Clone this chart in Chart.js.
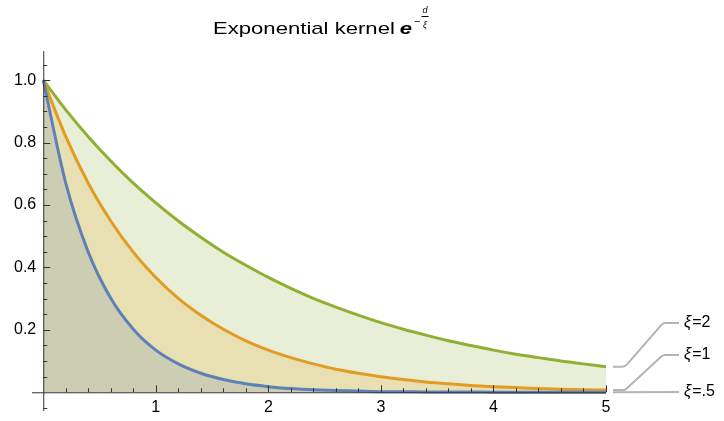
<!DOCTYPE html>
<html>
<head>
<meta charset="utf-8">
<script src="https://cdn.jsdelivr.net/npm/chart.js@4.4.0/dist/chart.umd.min.js"></script>
<style>
  html, body { margin: 0; padding: 0; background: #fff; }
  canvas { display: block; }
</style>
</head>
<body>
<canvas id="kernelChart" width="724" height="421"></canvas>
<script>
// distance d, read every 0.2
const distances = [0, 0.2, 0.4, 0.6, 0.8, 1.0, 1.2, 1.4, 1.6, 1.8, 2.0, 2.2, 2.4,
  2.6, 2.8, 3.0, 3.2, 3.4, 3.6, 3.8, 4.0, 4.2, 4.4, 4.6, 4.8, 5.0];

// kernel values
const xiHalf = [1, 0.670, 0.449, 0.301, 0.202, 0.135, 0.091, 0.061, 0.041, 0.027, 0.018,
  0.012, 0.008, 0.006, 0.004, 0.002, 0.002, 0.001, 0.001, 0.001, 0, 0, 0, 0, 0, 0];
const xiOne = [1, 0.819, 0.670, 0.549, 0.449, 0.368, 0.301, 0.247, 0.202, 0.165, 0.135,
  0.111, 0.091, 0.074, 0.061, 0.050, 0.041, 0.033, 0.027, 0.022, 0.018, 0.015, 0.012,
  0.010, 0.008, 0.007];
const xiTwo = [1, 0.905, 0.819, 0.741, 0.670, 0.607, 0.549, 0.497, 0.449, 0.407, 0.368,
  0.333, 0.301, 0.273, 0.247, 0.223, 0.202, 0.183, 0.165, 0.150, 0.135, 0.122, 0.111,
  0.100, 0.091, 0.082];

const seriesNames = ['.5', '1', '2'];
const xTicks = [1, 2, 3, 4, 5];
const yTicks = [0.2, 0.4, 0.6, 0.8, 1.0];
const yTickLabels = ['0.2', '0.4', '0.6', '0.8', '1.0'];

const colors = ['#5E81B5', '#E19C24', '#8FB032'];
const fills = ['rgba(94,129,181,0.2)', 'rgba(225,156,36,0.2)', 'rgba(143,176,50,0.2)'];
const labelY = [392, 355, 323]; // where the callout labels sit

const font = '"Liberation Sans", Arial, sans-serif';

function pts(vals) {
  return distances.map((d, i) => ({ x: d, y: vals[i] }));
}

const axesPlugin = {
  id: 'mmaAxes',
  afterDatasetsDraw(chart) {
    const c = chart.ctx;
    const xs = chart.scales.x, ys = chart.scales.y;
    const x0 = xs.getPixelForValue(0), y0 = ys.getPixelForValue(0);
    c.save();
    c.strokeStyle = '#333';
    c.lineWidth = 1;
    c.beginPath();
    // x axis
    c.moveTo(xs.left, y0 + 0.5); c.lineTo(xs.right, y0 + 0.5);
    // y axis
    c.moveTo(x0 + 0.5, ys.top + 2); c.lineTo(x0 + 0.5, ys.bottom);
    // x ticks (minor every 0.2, major at integers)
    for (let k = 1; k <= 25; k++) {
      const px = Math.round(xs.getPixelForValue(k * 0.2)) + 0.5;
      const len = k % 5 === 0 ? 7 : 4;
      c.moveTo(px, y0); c.lineTo(px, y0 - len);
    }
    // y ticks (minor every 0.05, major every 0.2)
    for (let k = -1; k <= 21; k++) {
      if (k === 0) continue;
      const py = Math.round(ys.getPixelForValue(k * 0.05)) + 0.5;
      const len = k % 4 === 0 ? 7 : 4;
      c.moveTo(x0, py); c.lineTo(x0 + len, py);
    }
    c.stroke();

    c.fillStyle = '#000';
    c.font = '16px ' + font;
    c.textAlign = 'center';
    c.textBaseline = 'middle';
    xTicks.forEach(v => c.fillText(String(v), xs.getPixelForValue(v), y0 + 15));
    c.textAlign = 'right';
    yTicks.forEach((v, i) => c.fillText(yTickLabels[i], x0 - 7, ys.getPixelForValue(v)));

    // callouts
    c.strokeStyle = '#b4b4b4';
    c.lineWidth = 2;
    chart.data.datasets.forEach((ds, i) => {
      const last = ds.data[ds.data.length - 1];
      const ya = ys.getPixelForValue(last.y);
      const yb = labelY[i];
      const xa = xs.right + 7;
      c.beginPath();
      c.moveTo(xa, ya);
      if (Math.abs(ya - yb) > 3) {
        c.arcTo(xa + 12, ya, xa + 50, yb, 6);
        c.arcTo(xa + 50, yb, xa + 66, yb, 6);
      }
      c.lineTo(xa + 66, yb);
      c.stroke();
      c.textAlign = 'left';
      c.font = 'italic 16px ' + font;
      const lx = xa + 71;
      c.fillText('ξ', lx, yb);
      const w = c.measureText('ξ').width;
      c.font = '16px ' + font;
      c.fillText('=' + seriesNames[i], lx + w + 1, yb);
    });

    // title with superscript e^{-d/xi}
    const sx = 1.3;
    c.textBaseline = 'alphabetic';
    c.textAlign = 'left';
    c.font = '17px ' + font;
    const main = 'Exponential kernel';
    const tx = 213, ty = 34;
    c.save();
    c.translate(tx, ty);
    c.scale(sx, 1);
    c.fillText(main, 0, 0);
    c.restore();
    let x = tx + c.measureText(main).width * sx + 5;
    c.font = 'bold italic 17px ' + font;
    c.save();
    c.translate(x, ty);
    c.scale(1.3, 1);
    c.fillText('e', 0, 0);
    c.restore();
    x += c.measureText('e').width * 1.3 + 2;
    c.font = '11px ' + font;
    c.fillText('\u2212', x, 25);
    x += c.measureText('\u2212').width + 1;
    c.font = 'italic 9px ' + font;
    c.textAlign = 'center';
    c.fillText('d', x + 3.5, 13);
    c.fillText('ξ', x + 3.5, 28);
    c.fillRect(x, 16, 7, 1);
    c.restore();
  }
};

new Chart(document.getElementById('kernelChart').getContext('2d'), {
  type: 'line',
  data: {
    datasets: [xiHalf, xiOne, xiTwo].map((vals, i) => ({
      label: 'ξ=' + seriesNames[i],
      data: pts(vals),
      borderColor: colors[i],
      backgroundColor: fills[i],
      fill: 'origin',
      borderWidth: 3,
      pointRadius: 0,
      cubicInterpolationMode: 'monotone'
    }))
  },
  options: {
    responsive: false,
    animation: false,
    devicePixelRatio: 1,
    layout: { padding: { left: 32, right: 118, top: 49, bottom: 10 } },
    plugins: {
      legend: { display: false },
      tooltip: { enabled: false },
      title: { display: false }
    },
    scales: {
      x: { type: 'linear', min: -0.1, max: 5, display: false },
      y: { min: -0.06, max: 1.1, display: false }
    }
  },
  plugins: [axesPlugin]
});
</script>
</body>
</html>
